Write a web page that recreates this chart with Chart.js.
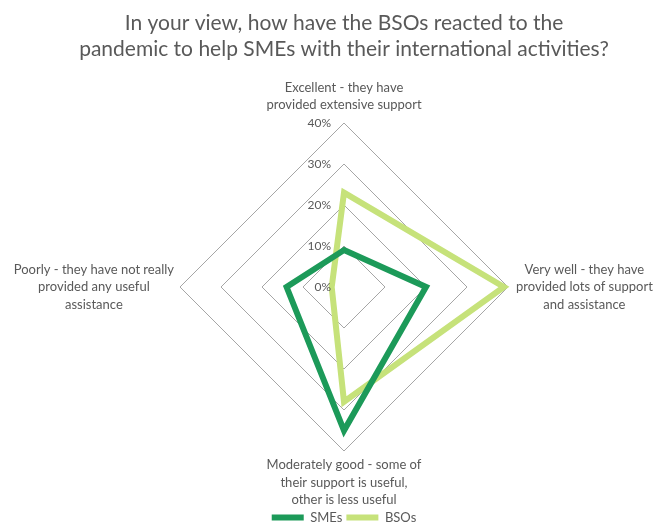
<!DOCTYPE html>
<html lang="en">
<head>
    <meta charset="UTF-8">
    <title>BSO reaction radar</title>
    <script src="https://cdn.jsdelivr.net/npm/chart.js@4.4.0/dist/chart.umd.min.js"></script>
    <style>
        html, body { margin: 0; padding: 0; background: #ffffff; }
        #wrap { width: 655px; height: 527px; }
    </style>
</head>
<body>
    <div id="wrap"><canvas id="radarChart" width="655" height="527"></canvas></div>

    <script>
        // Answer categories (clockwise from the top)
        var categories = [
            ['Excellent - they have', 'provided extensive support'],
            ['Very well - they have', 'provided lots of support', 'and assistance'],
            ['Moderately good - some of', 'their support is useful,', 'other is less useful'],
            ['Poorly - they have not really', 'provided any useful', 'assistance']
        ];

        // Share of respondents, percent
        var smeValues = [9, 20, 35, 14];
        var bsoValues = [23, 39, 28, 3];

        var tickValues = [0, 10, 20, 30, 40];

        var textColor = '#595959';
        var fontFamily = 'Lato, Carlito, Calibri, sans-serif';
        var labelSize = 13;
        var labelLine = 17.5;

        // Percent labels next to the vertical axis, and the category labels
        // centred around the outer ring's vertices
        var radarText = {
            id: 'radarText',
            afterDraw: function (chart) {
                var scale = chart.scales.r;
                var ctx = chart.ctx;
                ctx.save();
                ctx.fillStyle = textColor;

                ctx.font = '12px ' + fontFamily;
                ctx.textAlign = 'right';
                ctx.textBaseline = 'middle';
                tickValues.forEach(function (v) {
                    var p = scale.getPointPositionForValue(0, v);
                    ctx.fillText(v + '%', p.x - 13, p.y);
                });

                ctx.font = labelSize + 'px ' + fontFamily;
                ctx.textAlign = 'center';
                categories.forEach(function (lines, i) {
                    var v = scale.getPointPositionForValue(i, scale.max);
                    var w = Math.max.apply(null, lines.map(function (l) { return ctx.measureText(l).width; }));
                    var n = lines.length;
                    var cx = v.x, y0;
                    if (i === 0) {
                        y0 = v.y - 18 - (n - 1) * labelLine;
                    } else if (i === 2) {
                        y0 = v.y + 14;
                    } else {
                        cx = i === 1 ? v.x + 8 + w / 2 : v.x - 6 - w / 2;
                        y0 = v.y - (n - 1) * labelLine / 2;
                    }
                    lines.forEach(function (line, j) {
                        ctx.fillText(line, cx, y0 + j * labelLine);
                    });
                });
                ctx.restore();
            }
        };

        var ctx = document.getElementById('radarChart').getContext('2d');
        new Chart(ctx, {
            type: 'radar',
            data: {
                labels: categories,
                datasets: [{
                    label: 'SMEs',
                    data: smeValues,
                    borderColor: '#1c9a59',
                    backgroundColor: '#1c9a59',
                    borderWidth: 6,
                    borderJoinStyle: 'miter',
                    pointRadius: 0,
                    fill: false
                }, {
                    label: 'BSOs',
                    data: bsoValues,
                    borderColor: '#c6e27a',
                    backgroundColor: '#c6e27a',
                    borderWidth: 6,
                    borderJoinStyle: 'miter',
                    pointRadius: 0,
                    fill: false
                }]
            },
            options: {
                responsive: false,
                animation: false,
                layout: { padding: { left: 33, right: 0, top: 0, bottom: -7 } },
                plugins: {
                    title: {
                        display: true,
                        text: ['In your view, how have the BSOs reacted to the',
                               'pandemic to help SMEs with their international activities?'],
                        color: textColor,
                        font: { family: fontFamily, size: 21, weight: 'normal', lineHeight: 1.24 },
                        padding: { top: 10, bottom: 61 }
                    },
                    legend: {
                        position: 'bottom',
                        title: { display: true, text: ' ', font: { size: 10, lineHeight: 1 }, padding: { top: 45, bottom: 0 } },
                        labels: {
                            color: textColor,
                            font: { family: fontFamily, size: 13 },
                            usePointStyle: true,
                            pointStyle: 'line',
                            pointStyleWidth: 32,
                            boxHeight: 6,
                            padding: 4
                        }
                    },
                    tooltip: { enabled: false }
                },
                scales: {
                    r: {
                        min: 0,
                        max: 40,
                        ticks: { stepSize: 10, display: false },
                        angleLines: { display: false },
                        grid: { color: '#a6a6a6', lineWidth: 1 },
                        pointLabels: { display: false }
                    }
                }
            },
            plugins: [radarText]
        });
    </script>
</body>
</html>
